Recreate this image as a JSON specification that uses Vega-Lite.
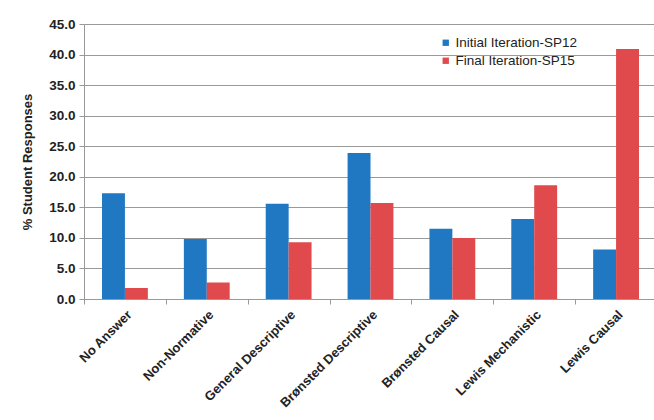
{
  "$schema": "https://vega.github.io/schema/vega-lite/v6.json",
  "autosize": {"type": "none"},
  "padding": {"left": 84, "top": 24, "right": 0, "bottom": 121},
  "width": 573,
  "height": 275,
  "background": "white",
  "data": {
    "values": [
      {"category": "No Answer", "series": "Initial Iteration-SP12", "value": 17.3},
      {"category": "No Answer", "series": "Final Iteration-SP15", "value": 1.8},
      {"category": "Non-Normative", "series": "Initial Iteration-SP12", "value": 9.8},
      {"category": "Non-Normative", "series": "Final Iteration-SP15", "value": 2.7},
      {"category": "General Descriptive", "series": "Initial Iteration-SP12", "value": 15.6},
      {"category": "General Descriptive", "series": "Final Iteration-SP15", "value": 9.3},
      {"category": "Brønsted Descriptive", "series": "Initial Iteration-SP12", "value": 23.9},
      {"category": "Brønsted Descriptive", "series": "Final Iteration-SP15", "value": 15.7},
      {"category": "Brønsted Causal", "series": "Initial Iteration-SP12", "value": 11.5},
      {"category": "Brønsted Causal", "series": "Final Iteration-SP15", "value": 10.0},
      {"category": "Lewis Mechanistic", "series": "Initial Iteration-SP12", "value": 13.1},
      {"category": "Lewis Mechanistic", "series": "Final Iteration-SP15", "value": 18.6},
      {"category": "Lewis Causal", "series": "Initial Iteration-SP12", "value": 8.1},
      {"category": "Lewis Causal", "series": "Final Iteration-SP15", "value": 40.9}
    ]
  },
  "mark": {"type": "bar"},
  "encoding": {
    "x": {
      "field": "category",
      "type": "nominal",
      "sort": null,
      "scale": {"paddingInner": 0.44, "paddingOuter": 0.22},
      "axis": {
        "title": null,
        "labelAngle": -45,
        "labelFont": "Liberation Sans",
        "labelFontWeight": "bold",
        "labelFontSize": 13,
        "labelColor": "#222222",
        "labelPadding": 4,
        "tickOffset": -41,
        "labelOffset": 41,
        "tickSize": 5,
        "tickColor": "#999999",
        "domainColor": "#999999",
        "grid": false
      }
    },
    "xOffset": {"field": "series", "type": "nominal", "sort": ["Initial Iteration-SP12", "Final Iteration-SP15"]},
    "y": {
      "field": "value",
      "type": "quantitative",
      "scale": {"domain": [0, 45], "nice": false},
      "axis": {
        "title": "% Student Responses",
        "titleFont": "Liberation Sans",
        "titleFontSize": 13,
        "titleFontWeight": "bold",
        "titleColor": "#222222",
        "titlePadding": 14,
        "values": [0, 5, 10, 15, 20, 25, 30, 35, 40, 45],
        "format": ".1f",
        "labelFont": "Liberation Sans",
        "labelFontWeight": "bold",
        "labelFontSize": 13.5,
        "labelColor": "#222222",
        "labelPadding": 4,
        "tickSize": 5,
        "tickColor": "#999999",
        "domainColor": "#999999",
        "gridColor": "#999999",
        "gridWidth": 1
      }
    },
    "color": {
      "field": "series",
      "type": "nominal",
      "sort": ["Initial Iteration-SP12", "Final Iteration-SP15"],
      "scale": {"range": ["#1f78c1", "#e04a4c"]},
      "legend": {
        "title": null,
        "orient": "none",
        "legendX": 355,
        "legendY": 12,
        "symbolType": "square",
        "symbolSize": 40,
        "symbolStrokeWidth": 0,
        "labelFont": "Liberation Sans",
        "labelFontSize": 13.5,
        "labelColor": "#222222",
        "labelOffset": 3,
        "rowPadding": 3
      }
    }
  },
  "config": {"view": {"stroke": null}}
}
